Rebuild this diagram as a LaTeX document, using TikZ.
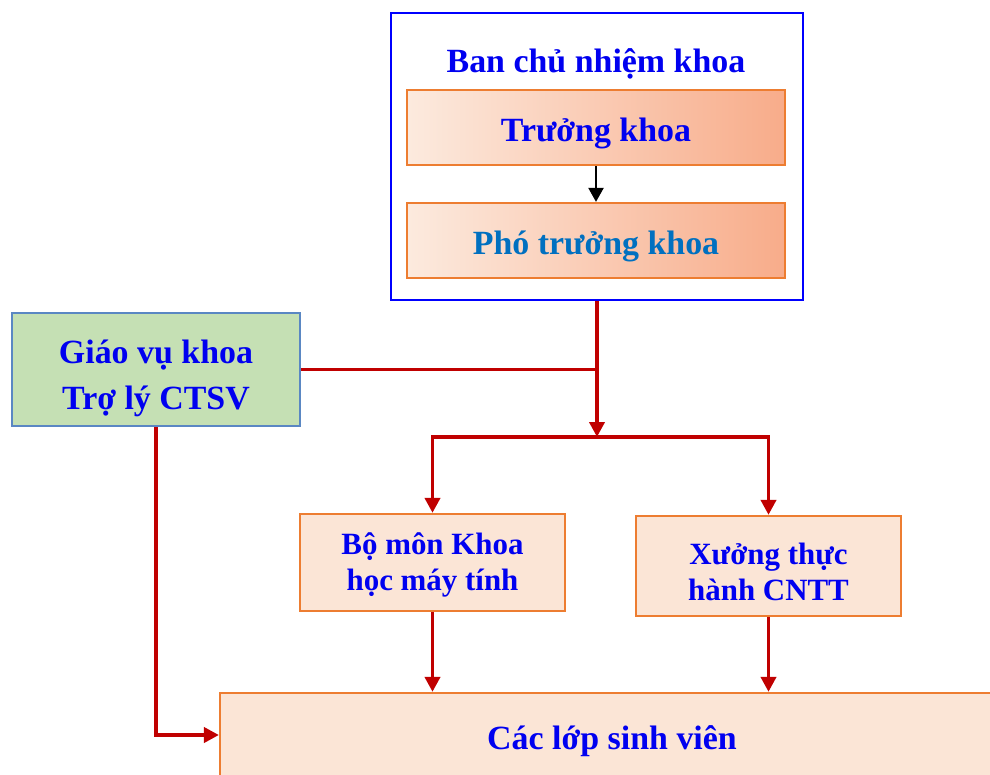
\documentclass[tikz,border=0pt]{standalone}
\usepackage{fontspec}
\setmainfont{Liberation Serif}
\usetikzlibrary{arrows.meta}

\definecolor{khoablue}{RGB}{0,0,240}
\definecolor{phoblue}{RGB}{0,112,192}
\definecolor{lineRed}{RGB}{192,0,0}
\definecolor{boxOrange}{RGB}{237,125,49}
\definecolor{boxPeach}{RGB}{251,229,214}
\definecolor{gvGreen}{RGB}{197,224,180}
\definecolor{gvBorder}{RGB}{90,135,195}

\begin{document}
\begin{tikzpicture}[x=0.02cm,y=-0.02cm,
    textbig/.style={font=\bfseries\fontsize{19.3}{26.7}\selectfont, text=khoablue, align=center},
    textsmall/.style={font=\bfseries\fontsize{17.6}{20}\selectfont, text=khoablue, align=center},
    oneline/.style={text height=0.56cm, text depth=0pt},
    leadbox/.style={draw=boxOrange, line width=1.3pt, shading=axis, left color=boxPeach!80!white,
        right color={rgb,255:red,248;green,172;blue,138}, minimum width=7.56cm, minimum height=1.5cm, inner sep=0pt},
    unitbox/.style={draw=boxOrange, line width=1.3pt, fill=boxPeach, minimum width=5.3cm, inner sep=0pt, text depth=0pt},
    redline/.style={draw=lineRed, line width=2.2pt},
    redarrow/.style={redline, -{Triangle[length=0.3cm,width=0.3cm]}}]
    \useasboundingbox (0,0) rectangle (990,774);
    \clip (0,0) rectangle (990,774);

    % ban chu nhiem
    \node[draw=blue, line width=1.6pt, minimum width=8.24cm, minimum height=5.74cm, inner sep=0pt] (bcn) at (597,156.5) {};
    \node[textbig, anchor=base] (bcnlabel) at (596,72) {Ban chủ nhiệm khoa};
    \node[leadbox, textbig, oneline] (tk) at (596,127.5) {Trưởng khoa};
    \node[leadbox, textbig, oneline, text=phoblue] (ptk) at (596,240.5) {Phó trưởng khoa};
    \draw[line width=1.3pt, -{Triangle[length=0.28cm,width=0.3cm]}] (tk) -- (ptk);

    % giao vu
    \node[draw=gvBorder, line width=1.3pt, fill=gvGreen, textbig, minimum width=5.76cm, minimum height=2.26cm,
        inner sep=0pt, text height=1.62cm, text depth=0pt] (gvk) at (156,369.5) {Giáo vụ khoa\\Trợ lý CTSV};

    % don vi
    \node[unitbox, textsmall, minimum height=1.94cm, text height=1.1cm] (bm) at (432.5,562.5) {Bộ môn Khoa\\học máy tính};
    \node[unitbox, textsmall, minimum height=2cm, text height=1.36cm] (xt) at (768.5,566) {Xưởng thực\\hành CNTT};
    \node[draw=boxOrange, line width=1.3pt, fill=boxPeach, textbig, oneline, minimum width=15.68cm, minimum height=1.68cm, inner sep=0pt] (lop) at (612,735) {Các lớp sinh viên};

    \coordinate (j1) at (gvk.east -| bcn.south);
    \coordinate (j2) at (597,437);

    \draw[redarrow] (bcn.south) -- (j2);
    \draw[redline] (gvk.east) -- (j1);
    \draw[redarrow] (j2) -| (bm.north);
    \draw[redarrow] (j2) -| (xt.north);
    \draw[redarrow] (bm.south) -- (bm.south |- lop.north);
    \draw[redarrow] (xt.south) -- (xt.south |- lop.north);
    \draw[redarrow] (gvk.south) |- (lop.west);
\end{tikzpicture}
\end{document}
